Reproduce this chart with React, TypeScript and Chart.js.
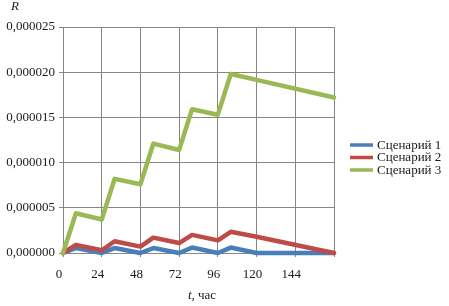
import React, { useEffect, useRef } from "react";
import { Chart, registerables } from "chart.js";

Chart.register(...registerables);

const hours = [0, 8, 24, 32, 48, 56, 72, 80, 96, 104, 120, 168];
const scenario1 = [0, 0.55e-6, 0, 0.55e-6, 0, 0.55e-6, 0, 0.6e-6, 0, 0.6e-6, 0, 0];
const scenario2 = [0, 0.9e-6, 0.3e-6, 1.3e-6, 0.7e-6, 1.7e-6, 1.1e-6, 2.0e-6, 1.4e-6, 2.35e-6, 1.8e-6, 0];
const scenario3 = [0, 4.4e-6, 3.7e-6, 8.2e-6, 7.6e-6, 12.1e-6, 11.4e-6, 15.9e-6, 15.3e-6, 19.8e-6, 19.15e-6, 17.2e-6];
const seriesNames = ["Сценарий 1", "Сценарий 2", "Сценарий 3"];
const seriesColors = ["#4a7ebb", "#be4b48", "#98b954"];
const xTicks = [0, 24, 48, 72, 96, 120, 144, 168];
const yTitle = "R";
const xTitleItalic = "t";
const xTitleRest = ", час";

const FONT = "'Liberation Serif', 'Times New Roman', serif";

export default function App() {
  const ref = useRef<HTMLCanvasElement | null>(null);

  useEffect(() => {
    if (!ref.current) return;
    const series = [scenario1, scenario2, scenario3];
    const textPlugin = {
      id: "textPlugin",
      afterDraw(chart: any) {
        const ctx = chart.ctx;
        ctx.save();
        ctx.fillStyle = "#1a1a1a";
        ctx.textBaseline = "middle";
        // y title
        ctx.font = `italic 13px ${FONT}`;
        ctx.textAlign = "center";
        ctx.fillText(yTitle, 15, 7);
        // x title
        const italicW = ctx.measureText(xTitleItalic).width;
        ctx.font = `13px ${FONT}`;
        const restW = ctx.measureText(xTitleRest).width;
        const total = italicW + restW;
        const cx = 202;
        const sx = cx - total / 2;
        ctx.textAlign = "left";
        ctx.font = `italic 13px ${FONT}`;
        ctx.fillText(xTitleItalic, sx, 296);
        ctx.font = `13px ${FONT}`;
        ctx.fillText(xTitleRest, sx + italicW, 296);
        // legend
        const ys = [145, 157.5, 170];
        for (let i = 0; i < seriesNames.length; i++) {
          ctx.strokeStyle = seriesColors[i];
          ctx.lineWidth = 3.5;
          ctx.lineCap = "butt";
          ctx.beginPath();
          ctx.moveTo(350, ys[i]);
          ctx.lineTo(373, ys[i]);
          ctx.stroke();
          ctx.fillStyle = "#1a1a1a";
          ctx.font = `13px ${FONT}`;
          ctx.fillText(seriesNames[i], 377, ys[i] + 0.5);
        }
        ctx.restore();
      },
    };

    const chart = new Chart(ref.current, {
      type: "line",
      data: {
        datasets: series.map((s, i) => ({
          label: seriesNames[i],
          data: hours.map((h, j) => ({ x: h, y: s[j] })),
          borderColor: seriesColors[i],
          backgroundColor: seriesColors[i],
          borderWidth: 4.5,
          pointRadius: 0,
          tension: 0,
          borderJoinStyle: "round" as const,
          borderCapStyle: "round" as const,
          clip: false as any,
          order: 3 - i,
        })),
      },
      options: {
        animation: false,
        responsive: false,
        maintainAspectRatio: false,
        layout: { padding: { left: 0, top: 27, right: 115, bottom: 0 } },
        plugins: {
          legend: { display: false },
          tooltip: { enabled: false },
          title: { display: false },
        },
        scales: {
          x: {
            type: "linear",
            min: 0,
            max: 168,
            afterFit: (scale: any) => {
              scale.height = 53;
            },
            afterBuildTicks: (scale: any) => {
              scale.ticks = xTicks.map((v) => ({ value: v }));
            },
            ticks: {
              autoSkip: false,
              maxRotation: 0,
              padding: 10,
              labelOffset: -4,
              color: "#1a1a1a",
              font: { family: FONT, size: 13 },
              callback: (v: any) => (v === 168 ? "" : String(v)),
            },
            grid: {
              color: "#868686",
              lineWidth: 1,
              tickLength: 4,
              drawTicks: true,
            },
            border: { color: "#868686", width: 1 },
          },
          y: {
            type: "linear",
            min: 0,
            max: 0.000025,
            afterFit: (scale: any) => {
              scale.width = 63;
            },
            ticks: {
              stepSize: 0.000005,
              padding: 4,
              color: "#1a1a1a",
              font: { family: FONT, size: 13 },
              callback: (v: any) => Number(v).toFixed(6).replace(".", ","),
            },
            grid: {
              color: "#868686",
              lineWidth: 1,
              tickLength: 4,
              drawTicks: true,
            },
            border: { color: "#868686", width: 1 },
          },
        },
      },
      plugins: [textPlugin],
    });
    return () => chart.destroy();
  }, []);

  return (
    <div style={{ position: "fixed", left: 0, top: 0, width: 449, height: 306, background: "#fff" }}>
      <canvas ref={ref} width={449} height={306} style={{ width: 449, height: 306 }} />
    </div>
  );
}
